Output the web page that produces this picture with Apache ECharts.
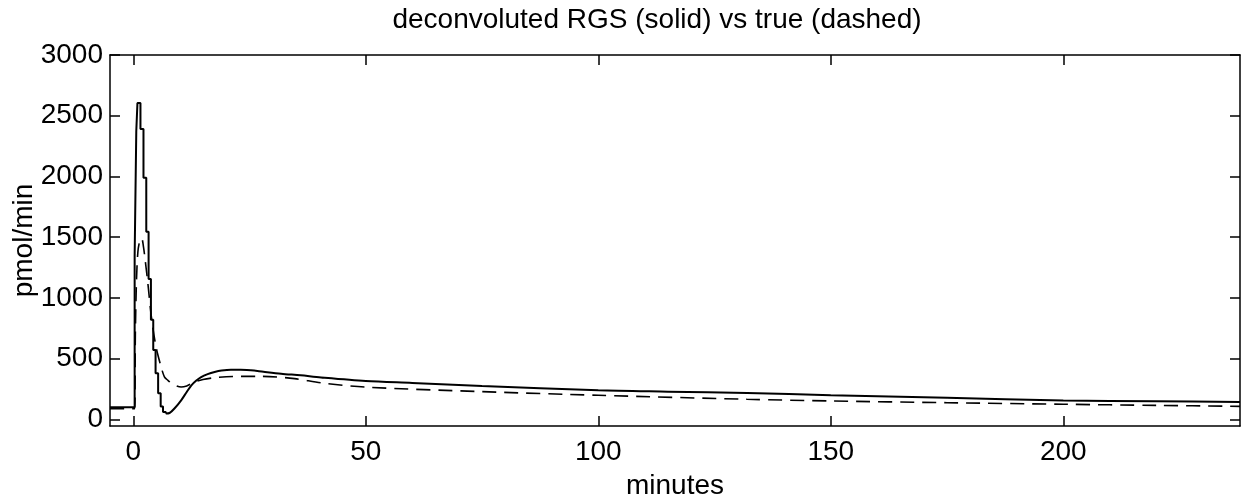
<!DOCTYPE html>
<html>
<head>
<meta charset="utf-8">
<script src="https://cdn.jsdelivr.net/npm/echarts@6/dist/echarts.min.js"></script>
<style>
  html, body { margin: 0; padding: 0; background: #fff; }
  #chart { width: 1242px; height: 499px; }
</style>
</head>
<body>
<div id="chart"></div>
<script>
// deconvoluted signal, stepped part (value holds until next time)
const solidStepT = [-5, 0.3, 0.65, 0.9, 1.55, 2.2, 2.8, 3.3, 3.8, 4.3, 4.8, 5.35, 5.9, 6.4, 7.0]
const solidStepV = [100, 1340, 2370, 2605, 2390, 1990, 1545, 1155, 820, 570, 380, 215, 105, 60, 48]
// deconvoluted signal, smooth tail
const solidT = [7.0, 7.8, 9, 10.3, 11.5, 12.5, 13.5, 14.6, 16, 17.5, 19, 21, 23, 25.3, 28, 31.8, 36, 40.4, 50, 60, 75, 100, 115, 132, 150, 175, 200, 220, 238]
const solidV = [48, 52, 95, 156, 225, 280, 318, 348, 372, 390, 402, 409, 408, 404, 392, 376, 362, 345, 316, 300, 275, 239, 228, 217, 198, 177, 156, 149, 143]
// true signal
const trueT = [-5, 0.3, 0.45, 0.7, 1.0, 1.4, 1.8, 2.2, 2.6, 3.15, 3.9, 4.9, 6.0, 6.7, 7.45, 8.5, 10.3, 11.5, 13.2, 15, 17.5, 20, 23.2, 27.5, 34.7, 40.4, 50, 75, 100, 132, 150, 175, 200, 220, 238]
const trueV = [88, 88, 700, 1150, 1380, 1470, 1490, 1420, 1300, 1118, 843, 596, 431, 350, 321, 290, 266, 275, 307, 328, 343, 351, 354, 354, 335, 300, 265, 228, 198, 165, 151, 137, 124, 115, 107]

const xTicks = [0, 50, 100, 150, 200]
const yTicks = [0, 500, 1000, 1500, 2000, 2500, 3000]

const pairs = (xs, ys) => xs.map((x, i) => [x, ys[i]])

const font = 'Liberation Sans, Arial, Helvetica, sans-serif'
const black = '#000'
const fs = 28

const chart = echarts.init(document.getElementById('chart'))

const xBase = {
  type: 'value',
  min: -5,
  max: 238,
  splitLine: { show: false },
  axisLine: { show: true, onZero: false, lineStyle: { color: black, width: 1.5 } },
  axisTick: { show: true, inside: true, length: 10, customValues: xTicks, lineStyle: { color: black, width: 1.5 } }
}
const yBase = {
  type: 'value',
  min: -55,
  max: 3000,
  splitLine: { show: false },
  axisLine: { show: true, onZero: false, lineStyle: { color: black, width: 1.5 } },
  axisTick: { show: true, inside: true, length: 10, customValues: yTicks, lineStyle: { color: black, width: 1.5 } }
}

chart.setOption({
  backgroundColor: '#fff',
  animation: false,
  title: {
    text: 'deconvoluted RGS (solid) vs true (dashed)',
    left: 652,
    top: 1,
    textAlign: 'center',
    textStyle: { fontFamily: font, fontSize: fs, fontWeight: 'normal', color: black }
  },
  grid: { left: 110, right: 2, top: 55, bottom: 73, containLabel: false, outerBoundsMode: 'none' },
  xAxis: [
    Object.assign({}, xBase, {
      position: 'bottom',
      name: 'minutes',
      nameLocation: 'middle',
      nameGap: 46,
      nameMoveOverlap: false,
      nameTextStyle: { fontFamily: font, fontSize: fs, color: black },
      axisLabel: { show: true, margin: 12, customValues: xTicks, formatter: v => String(v), fontFamily: font, fontSize: fs, color: black }
    }),
    Object.assign({}, xBase, { position: 'top', axisLabel: { show: false } })
  ],
  yAxis: [
    Object.assign({}, yBase, {
      position: 'left',
      name: 'pmol/min',
      nameLocation: 'middle',
      nameGap: 72,
      nameMoveOverlap: false,
      nameTextStyle: { fontFamily: font, fontSize: fs, color: black },
      axisLabel: { show: true, margin: 7, customValues: yTicks, formatter: v => String(v), fontFamily: font, fontSize: fs, color: black }
    }),
    Object.assign({}, yBase, { position: 'right', axisLabel: { show: false } })
  ],
  series: [
    {
      name: 'deconvoluted RGS',
      type: 'line',
      step: 'end',
      data: pairs(solidStepT, solidStepV),
      showSymbol: false,
      lineStyle: { color: black, width: 2 }
    },
    {
      name: 'deconvoluted RGS',
      type: 'line',
      smooth: 0.3,
      data: pairs(solidT, solidV),
      showSymbol: false,
      lineStyle: { color: black, width: 2 }
    },
    {
      name: 'true',
      type: 'line',
      smooth: 0.3,
      data: pairs(trueT, trueV),
      showSymbol: false,
      lineStyle: { color: black, width: 1.6, type: [14, 8] }
    }
  ]
})
</script>
</body>
</html>
